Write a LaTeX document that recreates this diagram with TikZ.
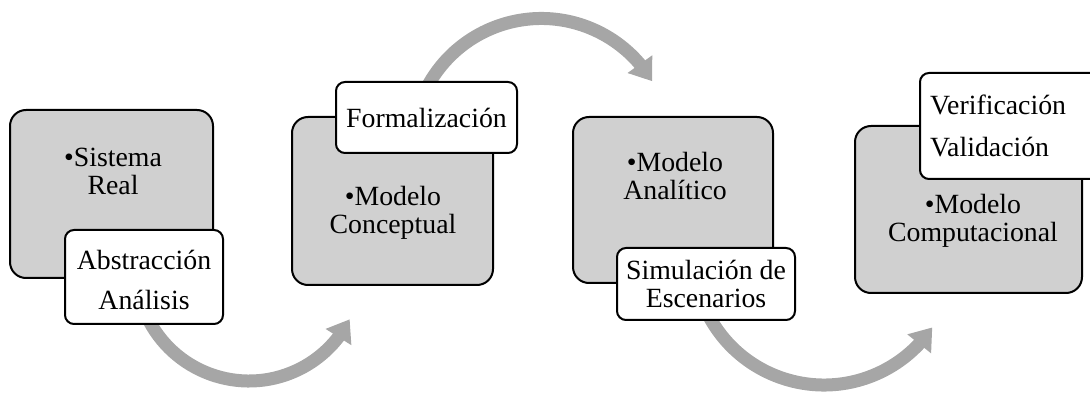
\documentclass[tikz,border=0pt]{standalone}
\usepackage{fontspec}
\setmainfont{Liberation Serif}
\usetikzlibrary{arrows.meta,bending}
\definecolor{boxgrey}{RGB}{208,208,208}
\definecolor{arrowgrey}{RGB}{166,166,166}
\begin{document}
\begin{tikzpicture}[x=1pt,y=-1pt,
  greybox/.style={draw=black, line width=2pt, fill=boxgrey, rounded corners=16pt, inner sep=0pt},
  whitebox/.style={draw=black, line width=2pt, fill=white, rounded corners=9pt, inner sep=0pt},
  txt/.style={align=center, inner sep=0pt, font=\fontsize{27.8}{28}\selectfont},
  widetxt/.style={align=center, inner sep=0pt, font=\fontsize{27.8}{40}\selectfont},
  lefttxt/.style={align=left, inner sep=0pt, font=\fontsize{27.8}{42}\selectfont},
  flow/.style={draw=arrowgrey, line width=13pt, -{Triangle[length=21pt,width=29pt]}}]
\useasboundingbox (0,0) rectangle (1090,395);
\clip (0,0) rectangle (1090,395);
% curved arrows
\coordinate (c1) at (249,268);
\coordinate (c2) at (541.3,147.8);
\coordinate (c3) at (824,254.4);
\draw[flow] ([shift={(155:113)}]c1) arc[start angle=155, end angle=27, radius=113];
\draw[flow] ([shift={(205:129.3)}]c2) arc[start angle=205, end angle=329, radius=129.3];
\draw[flow] ([shift={(154:130.6)}]c3) arc[start angle=154, end angle=34, radius=130.6];
% grey boxes
\node[greybox, minimum width=203pt, minimum height=168pt] (g1) at (111.5,194) {};
\node[greybox, minimum width=201pt, minimum height=168pt] (g2) at (392.5,201) {};
\node[greybox, minimum width=200pt, minimum height=166pt] (g3) at (673,200) {};
\node[greybox, minimum width=227pt, minimum height=167pt] (g4) at (968.5,209.5) {};
\node[txt] (t1) at (113,171) {•Sistema\\Real};
\node[txt] (t2) at (393,213) {•Modelo\\Conceptual};
\node[txt] (t3) at (675,176) {•Modelo\\Analítico};
\node[txt] (t4) at (973,221) {•Modelo\\Computacional};
% white label boxes
\node[whitebox, minimum width=158pt, minimum height=94pt] (w1) at (144,277) {};
\node[whitebox, minimum width=181pt, minimum height=71pt] (w2) at (426.5,117.5) {};
\node[whitebox, minimum width=178pt, minimum height=72pt] (w3) at (706,284) {};
\node[whitebox, minimum width=190pt, minimum height=106pt] (w4) at (1015,126) {};
\node[widetxt] (l1) at (144,280) {Abstracción\\Análisis};
\node[txt] (l2) at (426.5,117.5) {Formalización};
\node[txt] (l3) at (706,284) {Simulación de\\Escenarios};
\node[lefttxt, anchor=west] (l4) at (930,126) {Verificación\\Validación};
\end{tikzpicture}
\end{document}
